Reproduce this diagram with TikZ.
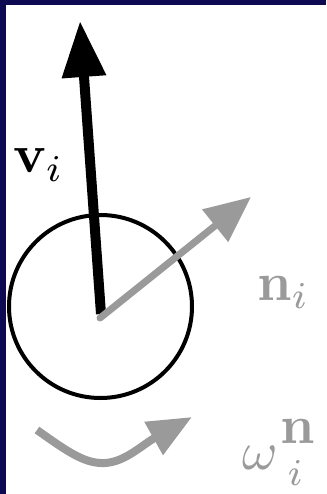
\documentclass[tikz,border=0pt]{standalone}
\usetikzlibrary{arrows.meta}
\definecolor{navy}{HTML}{0D0A52}
\definecolor{lgray}{HTML}{9A9A9A}
\tikzset{
  lbl/.style={inner sep=0pt, anchor=base west, scale=5.4},
  vec/.style={line width=10pt, -{Triangle[length=56pt,width=42pt]}},
  gvec/.style={lgray, line width=7pt, line cap=round, -{Triangle[length=46pt,width=40pt]}}
}
\begin{document}
\begin{tikzpicture}[x=1pt,y=-1pt]
\fill[navy] (0,0) rectangle (326,494);
\fill[white] (6,5) rectangle (326,494);
\useasboundingbox (0,0) rectangle (326,494);
\node[circle, draw, line width=4pt, minimum size=183pt, inner sep=0pt] (c) at (100.5,306.5) {};
\coordinate (o) at (101,314);
\coordinate (vt) at (80,21);
\coordinate (no) at (100,318);
\coordinate (nt) at (251,197);
\draw[vec] (o) -- (vt);
\draw[gvec] (no) -- (nt);
\coordinate (ws) at (37,430);
\coordinate (wm) at (105,463);
\coordinate (wt) at (192,417);
\draw[lgray, line width=8pt, -{Triangle[length=44pt,width=36pt]}] (ws) .. controls (68,452) and (85,464) .. (wm) .. controls (125,462) and (142,445) .. (wt);
\node[lbl] (v) at (12,173) {$\mathbf{v}_i$};
\node[lbl, text=lgray] (n) at (256,300) {$\mathbf{n}_i$};
\node[lbl, text=lgray] (w) at (241,469) {$\omega\kern0.6pt\rlap{\raisebox{4.7pt}{$\mathbf{n}$}}\raisebox{-3.1pt}{$\scriptstyle\kern1.2pt i$}$};
\end{tikzpicture}
\end{document}
